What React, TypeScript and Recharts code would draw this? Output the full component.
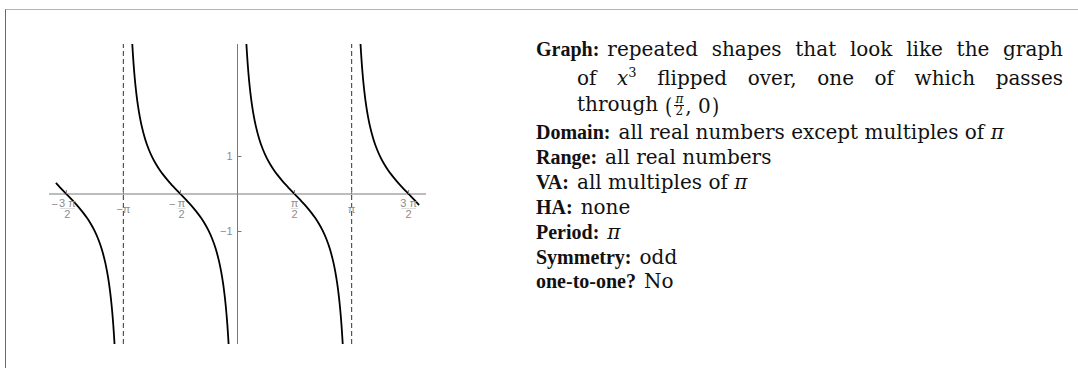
import React from "react";
import { LineChart, Line, XAxis, YAxis, ReferenceLine, ReferenceDot } from "recharts";

// y = cot x, sampled branch by branch between the asymptotes (values clipped at ±4)
const branchA: [number, number][] = [
  [-5.0, 0.296], [-4.883, 0.173], [-4.712, 0], [-4.541, -0.173], [-4.441, -0.278],
  [-4.341, -0.389], [-4.241, -0.509], [-4.141, -0.642], [-4.041, -0.794], [-3.941, -0.971],
  [-3.841, -1.187], [-3.741, -1.462], [-3.641, -1.831], [-3.591, -2.07], [-3.541, -2.365],
  [-3.501, -2.657], [-3.471, -2.92], [-3.441, -3.233], [-3.421, -3.478], [-3.401, -3.759],
  [-3.386, -4.0],
];
const branchB: [number, number][] = [
  [-2.897, 4.0], [-2.882, 3.759], [-2.862, 3.478], [-2.842, 3.233], [-2.812, 2.92],
  [-2.782, 2.657], [-2.742, 2.365], [-2.692, 2.07], [-2.642, 1.831], [-2.542, 1.462],
  [-2.442, 1.187], [-2.342, 0.971], [-2.242, 0.794], [-2.142, 0.642], [-2.042, 0.509],
  [-1.942, 0.389], [-1.842, 0.278], [-1.742, 0.173], [-1.571, 0], [-1.4, -0.173],
  [-1.3, -0.278], [-1.2, -0.389], [-1.1, -0.509], [-1.0, -0.642], [-0.9, -0.794],
  [-0.8, -0.971], [-0.7, -1.187], [-0.6, -1.462], [-0.5, -1.831], [-0.45, -2.07],
  [-0.4, -2.365], [-0.36, -2.657], [-0.33, -2.92], [-0.3, -3.233], [-0.28, -3.478],
  [-0.26, -3.759], [-0.245, -4.0],
];
const branchC: [number, number][] = [
  [0.245, 4.0], [0.26, 3.759], [0.28, 3.478], [0.3, 3.233], [0.33, 2.92],
  [0.36, 2.657], [0.4, 2.365], [0.45, 2.07], [0.5, 1.831], [0.6, 1.462],
  [0.7, 1.187], [0.8, 0.971], [0.9, 0.794], [1.0, 0.642], [1.1, 0.509],
  [1.2, 0.389], [1.3, 0.278], [1.4, 0.173], [1.571, 0], [1.742, -0.173],
  [1.842, -0.278], [1.942, -0.389], [2.042, -0.509], [2.142, -0.642], [2.242, -0.794],
  [2.342, -0.971], [2.442, -1.187], [2.542, -1.462], [2.642, -1.831], [2.692, -2.07],
  [2.742, -2.365], [2.782, -2.657], [2.812, -2.92], [2.842, -3.233], [2.862, -3.478],
  [2.882, -3.759], [2.897, -4.0],
];
const branchD: [number, number][] = [
  [3.387, 4.0], [3.402, 3.759], [3.422, 3.478], [3.442, 3.233], [3.472, 2.92],
  [3.502, 2.657], [3.542, 2.365], [3.592, 2.07], [3.642, 1.831], [3.742, 1.462],
  [3.842, 1.187], [3.942, 0.971], [4.042, 0.794], [4.142, 0.642], [4.242, 0.509],
  [4.342, 0.389], [4.442, 0.278], [4.542, 0.173], [4.712, 0], [4.883, -0.173],
  [4.983, -0.278], [5.0, -0.296],
];

const branches = [branchA, branchB, branchC, branchD];
const branchKeys = ["a", "b", "c", "d"];

// vertical asymptotes drawn dashed
const asymptotes = [-Math.PI, Math.PI];

// x tick labels: sign, numerator, denominator (empty denominator = plain label)
const xTicks = [
  { value: -1.5 * Math.PI, sign: "−", num: "3 π", den: "2" },
  { value: -Math.PI, sign: "−", num: "π", den: "" },
  { value: -0.5 * Math.PI, sign: "−", num: "π", den: "2" },
  { value: 0.5 * Math.PI, sign: "", num: "π", den: "2" },
  { value: Math.PI, sign: "", num: "π", den: "" },
  { value: 1.5 * Math.PI, sign: "", num: "3 π", den: "2" },
];
const yTicks = [
  { value: 1, label: "1" },
  { value: -1, label: "−1" },
];

const xDomain: [number, number] = [-5.19, 5.19];
const yDomain: [number, number] = [-4, 4];

const rows = branches.flatMap((b, i) =>
  b.map(([x, y]) => ({ x, [branchKeys[i]]: y } as Record<string, number>))
);

const AXIS = "#7a7a7a";
const LABEL = "#8c8c8c";
const TICK_FONT = "Liberation Sans, Arial, sans-serif";

function XTickMark(props: any, t: (typeof xTicks)[number]) {
  const { cx, cy } = props;
  const fs = 11;
  const shift = t.sign ? 1 : 0;
  const half = t.num.length > 1 ? 7.5 : 4;
  return (
    <g>
      <line x1={cx} y1={cy} x2={cx} y2={cy - 4} stroke={AXIS} strokeWidth={1} />
      {t.den ? (
        <g fontFamily={TICK_FONT} fontSize={fs} fill={LABEL}>
          <text x={cx + shift} y={cy + 13} textAnchor="middle">{t.num}</text>
          <line
            x1={cx + shift - half}
            x2={cx + shift + half}
            y1={cy + 14.5}
            y2={cy + 14.5}
            stroke="#c8c8c8"
            strokeWidth={0.6}
          />
          <text x={cx + shift} y={cy + 24} textAnchor="middle">{t.den}</text>
          {t.sign ? (
            <text x={cx - half - 1} y={cy + 14} textAnchor="end">{t.sign}</text>
          ) : null}
        </g>
      ) : (
        <text x={cx} y={cy + 19} textAnchor="middle" fontFamily={TICK_FONT} fontSize={fs} fill={LABEL}>
          {t.sign + t.num}
        </text>
      )}
    </g>
  );
}

function YTickMark(props: any, label: string) {
  const { cx, cy } = props;
  return (
    <g>
      <line x1={cx} y1={cy} x2={cx + 4} y2={cy} stroke={AXIS} strokeWidth={1} />
      <text x={cx - 5} y={cy + 3.5} textAnchor="end" fontFamily={TICK_FONT} fontSize={11} fill={LABEL}>
        {label}
      </text>
    </g>
  );
}

const bodyFont = "'DejaVu Serif', serif";
const labelFont = "'Liberation Serif', 'Times New Roman', serif";
const pi = <i>π</i>;

function Label({ children }: { children: React.ReactNode }) {
  return (
    <b style={{ fontFamily: labelFont, fontSize: 20, marginRight: 8 }}>{children}</b>
  );
}

function Notes() {
  const line: React.CSSProperties = { position: "absolute", left: 0, whiteSpace: "nowrap", lineHeight: "20px" };
  const paren: React.CSSProperties = { fontSize: 23, lineHeight: "20px", transform: "scaleX(0.8)" };
  return (
    <div
      style={{
        position: "absolute",
        left: 536,
        top: 0,
        width: 527,
        fontFamily: bodyFont,
        fontSize: 20,
        color: "#111",
      }}
    >
      <div style={{ ...line, top: 39, width: 527, whiteSpace: "normal", textAlign: "justify", textAlignLast: "justify" }}>
        <Label>Graph:</Label>repeated shapes that look like the graph
      </div>
      <div style={{ ...line, left: 41, top: 68, width: 486, whiteSpace: "normal", textAlign: "justify", textAlignLast: "justify" }}>
        of <i>x</i>
        <sup style={{ fontSize: 13, lineHeight: 0 }}>3</sup> flipped over, one of which passes
      </div>
      <div style={{ ...line, left: 41, top: 94 }}>
        through{" "}
        <span style={{ display: "inline-flex", alignItems: "center", verticalAlign: "middle" }}>
          <span style={paren}>(</span>
          <span style={{ display: "inline-flex", flexDirection: "column", alignItems: "center", fontSize: 12, lineHeight: "11px", margin: "0 1px" }}>
            <span style={{ borderBottom: "1px solid #111", padding: "0 1px" }}>{pi}</span>
            <span>2</span>
          </span>
          <span>, 0</span>
          <span style={paren}>)</span>
        </span>
      </div>
      <div style={{ ...line, top: 122 }}>
        <Label>Domain:</Label>all real numbers except multiples of {pi}
      </div>
      <div style={{ ...line, top: 147 }}>
        <Label>Range:</Label>all real numbers
      </div>
      <div style={{ ...line, top: 172 }}>
        <Label>VA:</Label>all multiples of {pi}
      </div>
      <div style={{ ...line, top: 197 }}>
        <Label>HA:</Label>none
      </div>
      <div style={{ ...line, top: 222 }}>
        <Label>Period:</Label>{pi}
      </div>
      <div style={{ ...line, top: 247 }}>
        <Label>Symmetry:</Label>odd
      </div>
      <div style={{ ...line, top: 271 }}>
        <Label>one-to-one?</Label>No
      </div>
    </div>
  );
}

export default function App() {
  return (
    <div style={{ position: "absolute", left: 0, top: 0, width: 1078, height: 368, background: "#fff", overflow: "hidden" }}>
      {/* frame edges */}
      <div
        style={{
          position: "absolute",
          left: 5,
          top: 9,
          right: -2,
          bottom: -2,
          borderTop: "1px solid #b4b4b4",
          borderLeft: "1px solid #6a6a6a",
        }}
      />
      <div style={{ position: "absolute", left: 0, top: 0 }}>
        <LineChart width={440} height={368} data={rows} margin={{ top: 44, right: 14, bottom: 24, left: 49 }}>
          <XAxis type="number" dataKey="x" domain={xDomain} allowDataOverflow hide />
          <YAxis type="number" domain={yDomain} allowDataOverflow hide />
          <ReferenceLine y={0} stroke={AXIS} strokeWidth={1} />
          <ReferenceLine x={0} stroke={AXIS} strokeWidth={1} />
          {asymptotes.map((a) => (
            <ReferenceLine key={a} x={a} stroke="#555" strokeWidth={1.2} strokeDasharray="5 3" />
          ))}
          {branchKeys.map((k) => (
            <Line
              key={k}
              dataKey={k}
              type="monotone"
              stroke="#000"
              strokeWidth={1.8}
              dot={false}
              activeDot={false}
              connectNulls={false}
              isAnimationActive={false}
            />
          ))}
          {xTicks.map((t) => (
            <ReferenceDot key={t.value} x={t.value} y={0} r={0} shape={(p: any) => XTickMark(p, t)} />
          ))}
          {yTicks.map((t) => (
            <ReferenceDot key={t.value} x={0} y={t.value} r={0} shape={(p: any) => YTickMark(p, t.label)} />
          ))}
        </LineChart>
      </div>
      <Notes />
    </div>
  );
}
